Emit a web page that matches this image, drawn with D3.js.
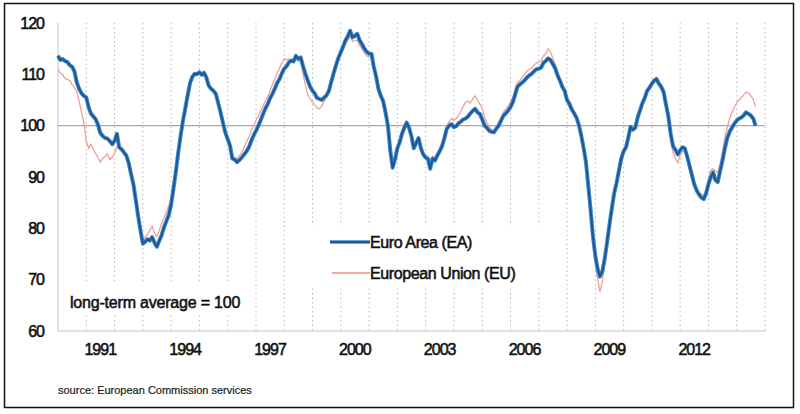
<!DOCTYPE html>
<html lang="en">
<head>
<meta charset="UTF-8">
<title>Economic Sentiment Indicator</title>
<script src="https://d3js.org/d3.v7.min.js"></script>
<style>
    body { margin: 0; background: #fff; }
    svg { display: block; font-family: "Liberation Sans", Arial, sans-serif; }
    .lbl { fill: #111; stroke: #111; stroke-width: 0.55px; }
</style>
</head>
<body>
<div class="viz"></div>
<script>
    // monthly values, Jan 1990 .. Sep 2014
    const startYear = 1990;

    const eaValues = [
        113.6, 112.8, 113.0, 112.6, 112.4, 111.8, 111.5, 110.6, 108.4, 107.2, 106.3, 105.8, // 1990
        105.5, 103.6, 102.4, 101.8, 101.3, 100.2, 98.6, 98.0, 97.6, 97.5, 97.0, 96.4,       // 1991
        97.0, 98.4, 95.8, 95.4, 94.8, 94.2, 92.8, 90.6, 88.6, 85.6, 82.4, 79.6,             // 1992
        77.0, 77.4, 77.9, 77.6, 78.3, 77.2, 76.4, 77.6, 78.7, 80.2, 81.4, 82.6,             // 1993
        84.6, 87.8, 90.8, 94.6, 97.8, 100.8, 103.2, 105.8, 108.2, 109.5, 110.1, 110.0,      // 1994
        110.4, 109.9, 110.3, 109.4, 107.8, 107.2, 106.8, 106.2, 104.4, 102.6, 100.6, 98.7,  // 1995
        97.4, 96.1, 93.6, 93.4, 92.9, 93.3, 93.8, 94.4, 95.0, 95.8, 97.0, 98.1,             // 1996
        99.0, 100.0, 101.0, 102.2, 103.3, 104.2, 105.3, 106.2, 107.2, 108.3, 109.1, 110.2,  // 1997
        111.1, 111.6, 112.3, 112.7, 112.5, 113.6, 113.0, 113.3, 111.6, 110.1, 108.8, 107.6, // 1998
        106.8, 106.2, 105.4, 105.2, 105.0, 105.5, 105.9, 106.8, 108.6, 110.2, 111.8, 113.2, // 1999
        114.3, 115.4, 116.6, 117.4, 118.5, 117.2, 117.5, 117.9, 116.6, 115.9, 115.0, 114.4, // 2000
        114.0, 114.0, 111.6, 109.6, 107.2, 105.8, 104.8, 102.6, 100.0, 95.2, 91.8, 93.4,    // 2001
        95.6, 96.8, 98.4, 99.6, 100.6, 99.6, 98.0, 95.6, 96.6, 97.6, 95.6, 94.4,            // 2002
        93.8, 93.5, 91.6, 93.6, 93.2, 94.2, 95.0, 96.0, 97.6, 99.4, 100.0, 100.3,           // 2003
        99.7, 99.9, 100.5, 100.8, 101.2, 101.4, 101.8, 102.4, 102.9, 103.3, 102.6, 102.3,   // 2004
        101.2, 100.0, 99.6, 99.0, 98.8, 98.7, 99.4, 100.0, 101.0, 101.9, 102.4, 102.9,      // 2005
        103.6, 104.6, 106.0, 107.6, 108.0, 108.4, 108.8, 109.4, 109.8, 110.1, 110.6, 111.0, // 2006
        111.1, 111.3, 112.2, 112.6, 113.1, 112.8, 112.0, 111.2, 109.8, 108.8, 107.6, 106.8, // 2007
        105.0, 104.2, 103.2, 102.4, 101.6, 100.2, 98.2, 95.8, 93.0, 88.4, 83.6, 78.4,       // 2008
        74.6, 72.0, 70.6, 71.6, 74.0, 77.2, 80.6, 83.8, 86.8, 88.8, 91.2, 93.6,             // 2009
        95.0, 95.8, 97.6, 99.8, 99.2, 99.6, 101.6, 103.0, 104.4, 105.4, 106.8, 107.4,       // 2010
        108.2, 108.8, 109.1, 108.2, 107.6, 106.6, 104.2, 101.9, 98.4, 96.0, 95.3, 94.4,     // 2011
        95.2, 95.8, 95.6, 94.0, 92.2, 90.4, 88.6, 87.4, 86.6, 86.0, 85.7, 86.8,             // 2012
        88.6, 90.0, 90.9, 89.4, 89.0, 91.2, 93.2, 95.6, 97.6, 98.8, 99.6, 100.4,            // 2013
        101.0, 101.4, 101.6, 102.0, 102.6, 102.3, 102.0, 101.4, 100.0                       // 2014
    ];

    const euValues = [
        111.0, 110.2, 110.0, 109.2, 109.0, 108.8, 108.0, 107.4, 106.6, 104.8, 102.6, 100.6, // 1990
        97.0, 95.6, 96.4, 95.4, 94.6, 93.8, 92.9, 93.6, 94.0, 94.5, 93.4, 93.8,             // 1991
        94.6, 95.8, 95.6, 95.2, 94.6, 94.0, 92.6, 90.4, 88.4, 85.4, 82.4, 79.8,             // 1992
        77.6, 78.4, 78.8, 79.6, 80.4, 79.0, 78.4, 79.6, 81.0, 82.0, 83.2, 84.4,             // 1993
        86.0, 88.6, 91.4, 94.6, 97.8, 100.6, 103.2, 105.6, 108.0, 109.2, 110.0, 110.2,      // 1994
        110.4, 110.0, 110.6, 109.6, 108.0, 107.4, 106.8, 106.0, 104.2, 102.4, 100.4, 98.6,  // 1995
        97.2, 95.8, 93.6, 93.8, 93.6, 94.2, 94.8, 95.8, 96.8, 97.8, 99.0, 100.0,            // 1996
        101.0, 101.8, 102.8, 103.8, 104.8, 105.6, 106.8, 108.0, 109.0, 110.2, 111.2, 112.2, // 1997
        113.0, 112.8, 113.0, 112.6, 112.2, 113.2, 112.6, 112.6, 110.0, 108.0, 106.0, 105.2, // 1998
        104.6, 104.0, 103.4, 103.3, 103.8, 104.7, 105.6, 106.6, 108.4, 110.0, 111.6, 113.0, // 1999
        114.0, 115.0, 116.0, 116.6, 117.4, 116.4, 116.6, 116.6, 115.6, 115.0, 114.2, 113.6, // 2000
        113.4, 113.2, 111.0, 109.2, 107.0, 105.6, 104.6, 102.6, 100.2, 95.6, 92.4, 93.8,    // 2001
        95.8, 97.0, 98.6, 99.8, 100.8, 99.8, 98.2, 96.0, 97.0, 97.8, 96.0, 94.8,            // 2002
        94.2, 94.0, 92.6, 94.0, 93.8, 94.6, 95.6, 96.6, 98.2, 100.0, 100.8, 101.4,          // 2003
        101.0, 101.4, 102.0, 102.8, 103.8, 104.6, 104.8, 104.4, 105.2, 105.8, 105.0, 104.2, // 2004
        103.4, 101.6, 100.6, 99.8, 99.2, 99.0, 99.8, 100.6, 101.6, 102.6, 103.2, 103.8,     // 2005
        104.6, 105.6, 107.0, 108.4, 108.8, 109.4, 110.0, 110.6, 111.0, 111.2, 111.8, 112.2, // 2006
        112.4, 112.6, 113.6, 114.0, 115.0, 114.4, 113.2, 112.0, 110.4, 109.2, 108.0, 107.2, // 2007
        105.6, 104.8, 104.0, 102.8, 101.8, 100.4, 98.0, 95.4, 92.4, 87.6, 82.6, 77.4,       // 2008
        73.0, 70.0, 67.6, 69.6, 73.0, 76.6, 80.2, 83.6, 86.8, 89.0, 91.4, 93.8,             // 2009
        95.0, 95.8, 97.8, 100.0, 99.4, 99.8, 101.8, 103.2, 104.6, 105.4, 106.6, 107.2,      // 2010
        107.8, 108.4, 108.6, 107.8, 107.0, 106.0, 103.4, 101.0, 97.6, 94.8, 93.6, 92.8,     // 2011
        94.2, 95.0, 95.0, 93.6, 92.0, 90.4, 88.8, 87.8, 87.0, 86.6, 86.4, 87.6,             // 2012
        89.8, 91.4, 91.6, 91.2, 90.8, 92.6, 95.0, 97.8, 99.6, 101.4, 102.6, 103.6,          // 2013
        104.5, 105.0, 105.5, 106.0, 106.5, 106.4, 105.8, 105.2, 103.6                       // 2014
    ];

    const yTicks = [60, 70, 80, 90, 100, 110, 120];
    const xTickYears = [1991, 1994, 1997, 2000, 2003, 2006, 2009, 2012];
    const gridYears = d3.range(1991, 2016);
    const seriesNames = ["Euro Area (EA)", "European Union (EU)"];
    const noteText = "long-term average = 100";
    const sourceText = "source:  European  Commission  services";

    const width = 800, height = 414;
    const margin = { left: 58, right: 35, top: 23, bottom: 83 };

    const svg = d3.select(".viz").append("svg")
        .attr("width", width)
        .attr("height", height);

    const x = d3.scaleTime()
        .domain([new Date(startYear, 0, 1), new Date(2015, 0, 1)])
        .range([margin.left, width - margin.right]);

    const y = d3.scaleLinear()
        .domain([60, 120])
        .range([height - margin.bottom, margin.top]);

    const monthDate = i => new Date(startYear, i, 1);

    // outer frame
    svg.append("rect")
        .attr("x", 4.5).attr("y", 3.5)
        .attr("width", 789).attr("height", 404)
        .attr("fill", "#fff")
        .attr("stroke", "#111")
        .attr("stroke-width", 1.5);

    // dotted yearly gridlines
    svg.append("g")
        .selectAll("line")
        .data(gridYears)
        .join("line")
        .attr("x1", d => x(new Date(d, 0, 1)))
        .attr("x2", d => x(new Date(d, 0, 1)))
        .attr("y1", y(120))
        .attr("y2", y(60))
        .attr("stroke", "#b8b8b8")
        .attr("stroke-width", 1)
        .attr("stroke-dasharray", "1.5,3");

    // white boxes behind legend and note
    svg.append("rect")
        .attr("x", 300).attr("y", 226).attr("width", 245).attr("height", 60)
        .attr("fill", "#fff");
    svg.append("rect")
        .attr("x", 62).attr("y", 283).attr("width", 190).attr("height", 31)
        .attr("fill", "#fff");

    // axes lines
    svg.append("line")
        .attr("x1", x.range()[0]).attr("x2", x.range()[0])
        .attr("y1", y(120)).attr("y2", y(60))
        .attr("stroke", "#c4c4c4");
    svg.append("line")
        .attr("x1", x.range()[0]).attr("x2", x.range()[1])
        .attr("y1", y(60)).attr("y2", y(60))
        .attr("stroke", "#c4c4c4");
    svg.append("line")
        .attr("x1", x.range()[0]).attr("x2", x.range()[1])
        .attr("y1", y(100)).attr("y2", y(100))
        .attr("stroke", "#a8a8a8")
        .attr("stroke-width", 1.2);

    // tick labels
    svg.append("g")
        .selectAll("text")
        .data(yTicks)
        .join("text")
        .attr("class", "lbl")
        .attr("x", 44)
        .attr("y", d => y(d))
        .attr("dy", "0.36em")
        .attr("text-anchor", "end")
        .attr("font-size", 16)
        .attr("letter-spacing", -1)
        .text(d => d);

    svg.append("g")
        .selectAll("text")
        .data(xTickYears)
        .join("text")
        .attr("class", "lbl")
        .attr("x", d => x(new Date(d, 6, 1)))
        .attr("y", 355)
        .attr("text-anchor", "middle")
        .attr("font-size", 16)
        .attr("letter-spacing", -1)
        .text(d => d);

    const line = d3.line()
        .x((d, i) => x(monthDate(i)))
        .y(d => y(d));

    // EU thin salmon line
    svg.append("path")
        .datum(euValues)
        .attr("fill", "none")
        .attr("stroke", "#f0a09a")
        .attr("stroke-width", 1.3)
        .attr("d", line);

    // EA thick blue line
    svg.append("path")
        .datum(eaValues)
        .attr("fill", "none")
        .attr("stroke", "#3a8ad2")
        .attr("stroke-width", 4)
        .attr("stroke-linejoin", "round")
        .attr("d", line);
    svg.append("path")
        .datum(eaValues)
        .attr("fill", "none")
        .attr("stroke", "#22568f")
        .attr("stroke-width", 2)
        .attr("stroke-linejoin", "round")
        .attr("d", line);

    // legend
    const legend = svg.append("g");
    legend.append("line")
        .attr("x1", 330).attr("x2", 370).attr("y1", 242).attr("y2", 242)
        .attr("stroke", "#3a8ad2").attr("stroke-width", 3.5);
    legend.append("line")
        .attr("x1", 330).attr("x2", 370).attr("y1", 242).attr("y2", 242)
        .attr("stroke", "#22568f").attr("stroke-width", 1.8);
    legend.append("line")
        .attr("x1", 332).attr("x2", 370).attr("y1", 273).attr("y2", 273)
        .attr("stroke", "#f0aaa6").attr("stroke-width", 2);
    legend.selectAll("text")
        .data(seriesNames)
        .join("text")
        .attr("class", "lbl")
        .attr("x", 370)
        .attr("y", (d, i) => 248 + i * 31)
        .attr("font-size", 16)
        .attr("letter-spacing", -0.4)
        .text(d => d);

    svg.append("text")
        .attr("class", "lbl")
        .attr("x", 70).attr("y", 308)
        .attr("font-size", 16)
        .attr("letter-spacing", -0.2)
        .text(noteText);

    svg.append("text")
        .attr("x", 58).attr("y", 394)
        .attr("font-size", 11)
        .attr("fill", "#1a1a1a")
        .attr("stroke", "#1a1a1a")
        .attr("stroke-width", 0.2)
        .text(sourceText);
</script>
</body>
</html>
